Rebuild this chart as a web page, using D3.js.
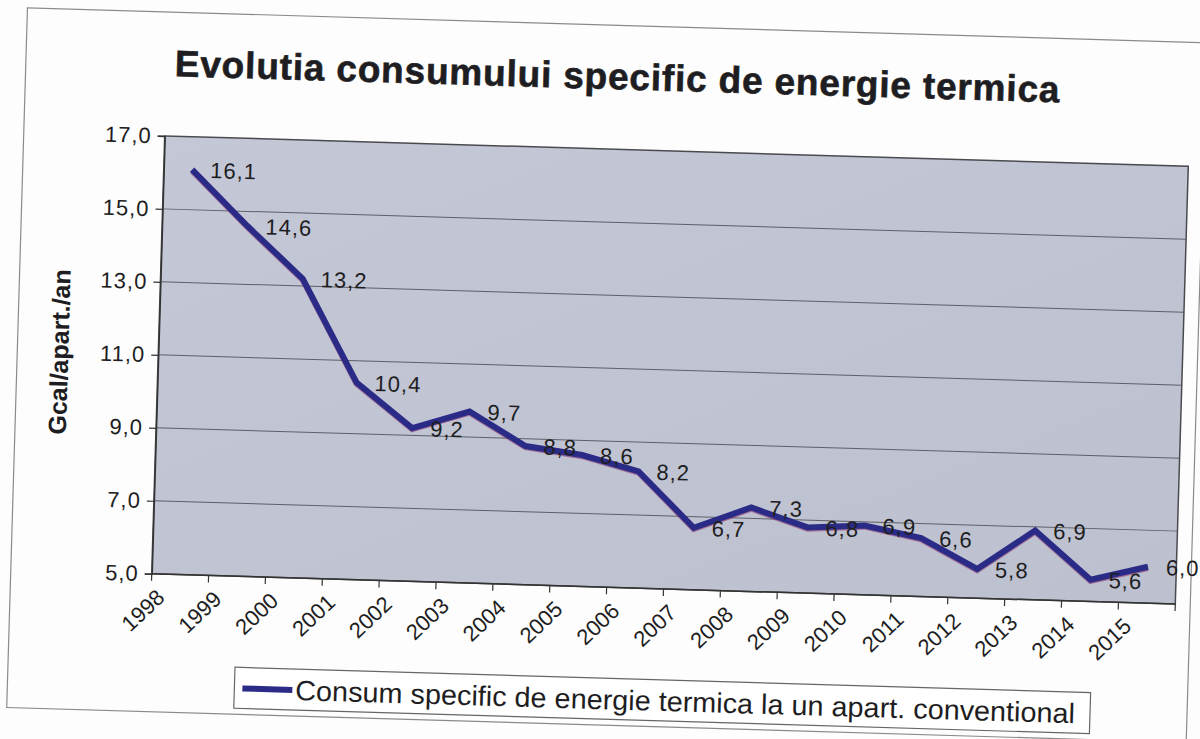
<!DOCTYPE html>
<html>
<head>
<meta charset="utf-8">
<script src="https://cdn.jsdelivr.net/npm/d3@7"></script>
<style>
  html, body { margin: 0; padding: 0; background: #fdfdfd; }
  svg { display: block; }
  text { font-family: "Liberation Sans", Arial, Helvetica, sans-serif; fill: #1e1e22; }
</style>
</head>
<body>
<svg id="chart" width="1200" height="739"></svg>
<script>
// ---- data ----
const years = ["1998","1999","2000","2001","2002","2003","2004","2005","2006","2007",
               "2008","2009","2010","2011","2012","2013","2014","2015"];
const values = [16.1, 14.6, 13.2, 10.4, 9.2, 9.7, 8.8, 8.6, 8.2, 6.7,
                7.3, 6.8, 6.9, 6.6, 5.8, 6.9, 5.6, 6.0];
const yTicks = [5, 7, 9, 11, 13, 15, 17];
const yDomain = [5, 17];
const titleText = "Evolutia consumului specific de energie termica";
const yTitle = "Gcal/apart./an";
const seriesName = "Consum specific de energie termica la un apart. conventional";

// ---- layout ----
const W = 1200, H = 739;
const plot = { x0: 158, x1: 1182, y0: 151, y1: 589 };
const tilt = 1.7, cx = 670, cy = 370;
const lineColor = "#2a2b86";
const fmt = v => d3.format(".1f")(v).replace(".", ",");

const svg = d3.select("#chart");
const root = svg.append("g").attr("transform", `rotate(${tilt},${cx},${cy})`);

// outer chart border
root.append("rect")
  .attr("x", 17).attr("y", 27).attr("width", 1180).attr("height", 700)
  .attr("fill", "none").attr("stroke", "#8a8a8a").attr("stroke-width", 1.2);

const x = d3.scaleBand().domain(years).range([plot.x0, plot.x1]).paddingInner(0).paddingOuter(0);
const y = d3.scaleLinear().domain(yDomain).range([plot.y1, plot.y0]);

// plot background
const defs = svg.append("defs");
const grad = defs.append("linearGradient").attr("id", "bg").attr("x1", 0).attr("y1", 0).attr("x2", 1).attr("y2", 1);
grad.append("stop").attr("offset", "0%").attr("stop-color", "#c3c7d6");
grad.append("stop").attr("offset", "100%").attr("stop-color", "#bcc0cf");
root.append("rect")
  .attr("x", plot.x0).attr("y", plot.y0)
  .attr("width", plot.x1 - plot.x0).attr("height", plot.y1 - plot.y0)
  .attr("fill", "url(#bg)");

// gridlines
root.append("g").selectAll("line").data(yTicks.slice(1, -1)).join("line")
  .attr("x1", plot.x0).attr("x2", plot.x1)
  .attr("y1", d => y(d)).attr("y2", d => y(d))
  .attr("stroke", "#5e5f68").attr("stroke-width", 1);

// plot border
root.append("rect")
  .attr("x", plot.x0).attr("y", plot.y0)
  .attr("width", plot.x1 - plot.x0).attr("height", plot.y1 - plot.y0)
  .attr("fill", "none").attr("stroke", "#4a4a50").attr("stroke-width", 1.5);

// y axis
const yAxis = d3.axisLeft(y).tickValues(yTicks).tickSize(7).tickPadding(6).tickFormat(fmt);
const gy = root.append("g").attr("transform", `translate(${plot.x0},0)`).call(yAxis);
gy.select(".domain").attr("stroke", "#333").attr("stroke-width", 1.5);
gy.selectAll(".tick line").attr("stroke", "#333").attr("stroke-width", 1.2);
gy.selectAll(".tick text").attr("font-size", 22).attr("fill", "#1e1e22")
  .attr("letter-spacing", 1)
  .attr("font-family", '"Liberation Sans", Arial, sans-serif');

// x axis: ticks at category boundaries
const boundaries = d3.range(years.length + 1).map(i => plot.x0 + i * x.bandwidth());
root.append("g").selectAll("line").data(boundaries).join("line")
  .attr("x1", d => d).attr("x2", d => d)
  .attr("y1", plot.y1).attr("y2", plot.y1 + 7)
  .attr("stroke", "#333").attr("stroke-width", 1.2);
root.append("line")
  .attr("x1", plot.x0).attr("x2", plot.x1).attr("y1", plot.y1).attr("y2", plot.y1)
  .attr("stroke", "#333").attr("stroke-width", 1.5);

root.append("g").selectAll("text").data(years).join("text")
  .attr("transform", d => `translate(${x(d) + 15},${plot.y1 + 25}) rotate(-45)`)
  .attr("text-anchor", "end")
  .attr("font-size", 22)
  .text(d => d);

// line
const line = d3.line()
  .x((d, i) => x(years[i]) + x.bandwidth() / 2)
  .y(d => y(d));
root.append("path").datum(values)
  .attr("d", line).attr("fill", "none")
  .attr("stroke", "#8a2a6a").attr("stroke-width", 6).attr("stroke-opacity", 0.55)
  .attr("stroke-linejoin", "miter")
  .attr("transform", "translate(0,1.2)");
root.append("path").datum(values)
  .attr("d", line).attr("fill", "none")
  .attr("stroke", lineColor).attr("stroke-width", 6)
  .attr("stroke-linejoin", "miter");

// data labels
root.append("g").selectAll("text").data(values).join("text")
  .attr("x", (d, i) => x(years[i]) + x.bandwidth() / 2 + 18)
  .attr("y", d => y(d))
  .attr("dy", "0.36em")
  .attr("font-size", 22)
  .attr("letter-spacing", 1)
  .text(d => fmt(d));

// title
root.append("text")
  .attr("x", 166).attr("y", 91)
  .attr("font-size", 37).attr("font-weight", "bold")
  .attr("stroke", "#1e1e22").attr("stroke-width", 0.6)
  .attr("textLength", 885).attr("lengthAdjust", "spacing")
  .text(titleText);

// y title
root.append("text")
  .attr("transform", `translate(68,${(plot.y0 + plot.y1) / 2}) rotate(-90)`)
  .attr("text-anchor", "middle")
  .attr("font-size", 25).attr("font-weight", "bold")
  .text(yTitle);

// legend
const lg = root.append("g");
lg.append("rect")
  .attr("x", 244).attr("y", 680).attr("width", 856).attr("height", 41)
  .attr("fill", "#ffffff").attr("stroke", "#666").attr("stroke-width", 1.2);
lg.append("line")
  .attr("x1", 252).attr("x2", 302).attr("y1", 701).attr("y2", 701)
  .attr("stroke", lineColor).attr("stroke-width", 6);
lg.append("text")
  .attr("x", 305).attr("y", 711)
  .attr("font-size", 28)
  .attr("textLength", 780).attr("lengthAdjust", "spacingAndGlyphs")
  .text(seriesName);
</script>
</body>
</html>
